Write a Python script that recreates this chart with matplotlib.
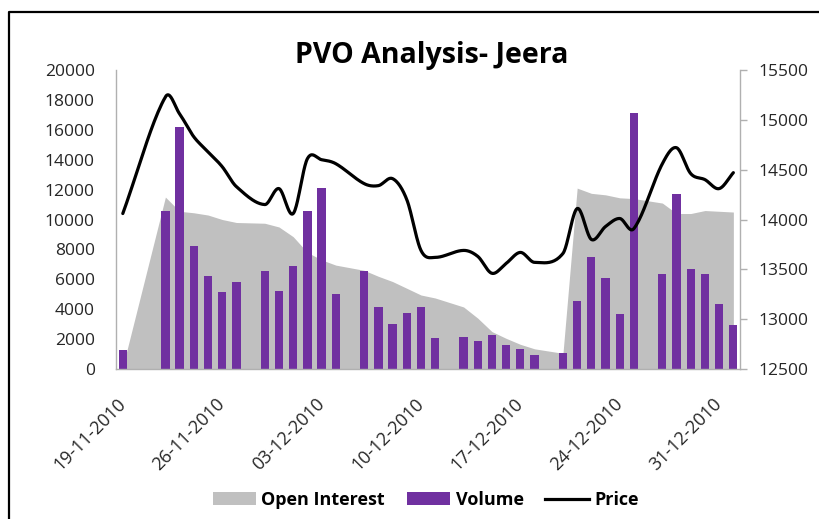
import numpy as np
import pandas as pd
import matplotlib
matplotlib.use("Agg")
import matplotlib.pyplot as plt
import matplotlib.dates as mdates
from matplotlib.patches import Patch
from matplotlib.lines import Line2D

plt.rcParams['font.family'] = ['Open Sans', 'DejaVu Sans']

dates = ["2010-11-19",
         "2010-11-22", "2010-11-23", "2010-11-24", "2010-11-25", "2010-11-26", "2010-11-27",
         "2010-11-29", "2010-11-30", "2010-12-01", "2010-12-02", "2010-12-03", "2010-12-04",
         "2010-12-06", "2010-12-07", "2010-12-08", "2010-12-09", "2010-12-10", "2010-12-11",
         "2010-12-13", "2010-12-14", "2010-12-15", "2010-12-16", "2010-12-17", "2010-12-18",
         "2010-12-20", "2010-12-21", "2010-12-22", "2010-12-23", "2010-12-24", "2010-12-25",
         "2010-12-27", "2010-12-28", "2010-12-29", "2010-12-30", "2010-12-31", "2011-01-01"]

volume = [1300,
          10600, 16200, 8200, 6200, 5150, 5800,
          6550, 5200, 6900, 10600, 12100, 5000,
          6550, 4150, 3000, 3750, 4150, 2050,
          2150, 1900, 2300, 1600, 1350, 950,
          1100, 4550, 7500, 6100, 3700, 17100,
          6350, 11700, 6700, 6350, 4350, 2950]

open_interest = [150,
                 11500, 10550, 10450, 10300, 10000, 9800,
                 9750, 9500, 8850, 7800, 7300, 6950,
                 6600, 6200, 5850, 5400, 4950, 4750,
                 4150, 3400, 2500, 2050, 1650, 1350,
                 1050, 12100, 11750, 11650, 11450, 11400,
                 11100, 10400, 10400, 10600, 10550, 10500]

price = [14060,
         15230, 15060, 14830, 14680, 14530, 14330,
         14150, 14310, 14060, 14610, 14600, 14560,
         14360, 14340, 14410, 14200, 13690, 13620,
         13690, 13630, 13460, 13560, 13670, 13570,
         13660, 14110, 13800, 13930, 14010, 13910,
         14560, 14720, 14460, 14400, 14310, 14470]

tick_dates = ["2010-11-19", "2010-11-26", "2010-12-03", "2010-12-10",
              "2010-12-17", "2010-12-24", "2010-12-31"]


def smooth(x, y, n=24):
    # smoothed line through the points (Hermite curve, Excel-like look)
    x = np.asarray(x, float)
    y = np.asarray(y, float)
    k = len(x)
    m = np.empty(k)
    m[1:-1] = (y[2:] - y[:-2]) / (x[2:] - x[:-2])
    m[0] = (y[1] - y[0]) / (x[1] - x[0])
    m[-1] = (y[-1] - y[-2]) / (x[-1] - x[-2])
    t = np.linspace(0, 1, n)
    xs, ys = [], []
    for i in range(k - 1):
        h = x[i + 1] - x[i]
        h00 = 2 * t ** 3 - 3 * t ** 2 + 1
        h10 = t ** 3 - 2 * t ** 2 + t
        h01 = -2 * t ** 3 + 3 * t ** 2
        h11 = t ** 3 - t ** 2
        xs.append(x[i] + t * h)
        ys.append(h00 * y[i] + h10 * h * m[i] + h01 * y[i + 1] + h11 * h * m[i + 1])
    return np.concatenate(xs), np.concatenate(ys)


x = mdates.date2num(pd.to_datetime(dates))
xt = mdates.date2num(pd.to_datetime(tick_dates))

purple = "#7030A0"
grey = "#C0C0C0"
axis_col = "#B0B0B0"
text_col = "#262626"

fig = plt.figure(figsize=(8.2, 5.19), dpi=100)
ax = fig.add_axes([0.1411, 0.289, 0.7619, 0.5761])
ax2 = ax.twinx()

ax.fill_between(x, open_interest, color=grey, linewidth=0)
ax.bar(x, volume, width=0.58, color=purple, linewidth=0)
sx, sy = smooth(x, price)
ax2.plot(sx, sy, color="black", linewidth=2.3, solid_capstyle="round")

ax.set_xlim(x[0] - 0.5, x[-1] + 0.5)
ax.set_ylim(0, 20000)
ax2.set_ylim(12500, 15500)
ax.set_yticks(np.arange(0, 20001, 2000))
ax2.set_yticks(np.arange(12500, 15501, 500))
ax.set_xticks(xt)
ax.set_xticklabels([pd.to_datetime(d).strftime("%d-%m-%Y") for d in tick_dates])

for a in (ax, ax2):
    a.spines["top"].set_visible(False)
    for s in ("left", "right", "bottom"):
        a.spines[s].set_color(axis_col)
        a.spines[s].set_linewidth(1.0)
ax.spines["right"].set_visible(False)
ax2.spines["left"].set_visible(False)
ax2.spines["bottom"].set_visible(False)

ax.tick_params(axis="y", length=0, pad=15, labelsize=12.5, labelcolor=text_col)
ax.tick_params(axis="x", length=0, pad=23, labelsize=13, labelcolor=text_col)
ax2.tick_params(axis="y", length=5, width=1, color=axis_col, pad=8,
                labelsize=12.5, labelcolor=text_col)
for lab in ax.get_xticklabels():
    lab.set_rotation(45)
    lab.set_rotation_mode("anchor")
    lab.set_ha("right")
    lab.set_va("center")

fig.text(0.527, 1 - 55 / 519, "PVO Analysis- Jeera", ha="center", va="center",
         fontsize=20.5, fontweight="bold", color="black")

handles = [Patch(facecolor=grey, edgecolor="none"),
           Patch(facecolor=purple, edgecolor="none"),
           Line2D([], [], color="black", linewidth=2.3)]
fig.legend(handles, ["Open Interest", "Volume", "Price"], loc="center",
           bbox_to_anchor=(0.519, 1 - 500 / 519), ncol=3, frameon=False,
           prop={"size": 13, "weight": "bold"}, handlelength=2.4,
           handleheight=0.7, handletextpad=0.3, columnspacing=1.2)

# outer chart frame (left and top edges visible)
fig.add_artist(Line2D([9 / 820, 9 / 820, 1.01], [-0.01, 1 - 12 / 519, 1 - 12 / 519],
                      transform=fig.transFigure, color="black", linewidth=1.6))

fig.savefig("out.png", dpi=100)
